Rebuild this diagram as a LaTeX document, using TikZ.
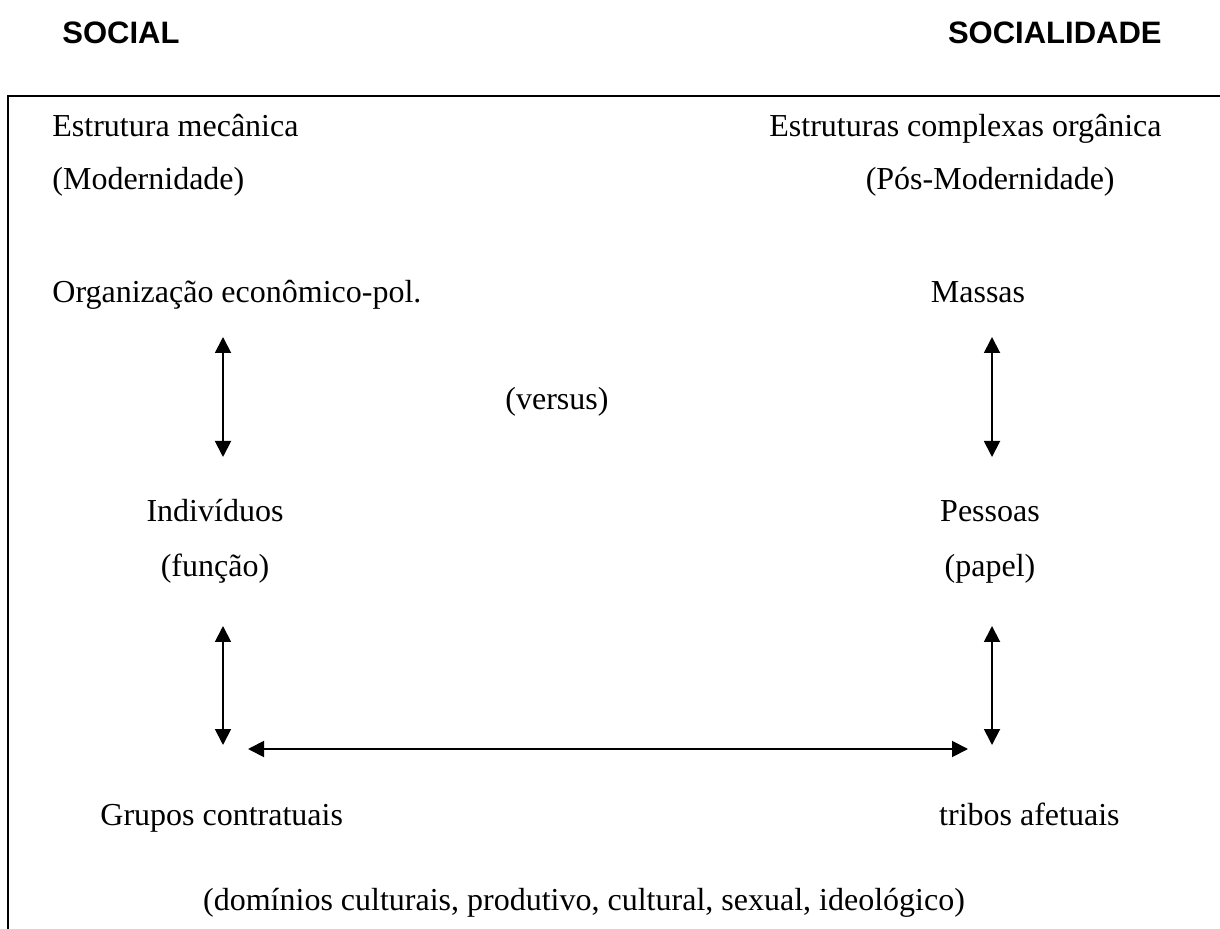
\documentclass[tikz,border=0pt]{standalone}
\usepackage{fontspec}
\setmainfont{Liberation Serif}
\newfontfamily\hdrfont{Liberation Sans}
\usetikzlibrary{arrows.meta}
\begin{document}
\begin{tikzpicture}[x=0.5pt,y=-0.5pt,
  txt/.style={inner sep=0pt,font=\fontsize{16}{19}\selectfont},
  hdr/.style={inner sep=0pt,font=\hdrfont\bfseries\fontsize{15.5}{18}\selectfont},
  frame/.style={line width=1pt},
  dbl/.style={line width=0.95pt,{Triangle[length=8pt,width=8pt]}-{Triangle[length=8pt,width=8pt]}}]
\useasboundingbox (0,0) rectangle (1220,929);
% headers
\node[hdr,anchor=base west] (hsoc) at (62,44) {SOCIAL};
\node[hdr,anchor=base east] (hsocl) at (1162,44) {SOCIALIDADE};
% frame
\draw[frame] (8,935) -- (8,96) -- (1225,96);
% left column
\node[txt,anchor=base west] (est) at (52,137) {Estrutura mecânica};
\node[txt,anchor=base west] (mod) at (52,190) {(Modernidade)};
\node[txt,anchor=base west] (org) at (52,303) {Organização econômico-pol.};
\node[txt,anchor=base] (ind) at (215,522) {Indivíduos};
\node[txt,anchor=base] (fun) at (215,577) {(função)};
\node[txt,anchor=base west] (gru) at (100,825) {Grupos contratuais};
% right column
\node[txt,anchor=base east] (ests) at (1162,137) {Estruturas complexas orgânica};
\node[txt,anchor=base east] (pmod) at (1115,190) {(Pós-Modernidade)};
\node[txt,anchor=base] (mas) at (978,303) {Massas};
\node[txt,anchor=base] (pes) at (990,522) {Pessoas};
\node[txt,anchor=base] (pap) at (990,577) {(papel)};
\node[txt,anchor=base east] (tri) at (1120,825) {tribos afetuais};
% middle
\node[txt,anchor=base] (ver) at (557,410) {(versus)};
\node[txt,anchor=base] (dom) at (584,910) {(domínios culturais, produtivo, cultural, sexual, ideológico)};
% arrows
\coordinate (l1a) at (223,337); \coordinate (l1b) at (223,457);
\coordinate (r1a) at (992,337); \coordinate (r1b) at (992,457);
\coordinate (l2a) at (223,626); \coordinate (l2b) at (223,745);
\coordinate (r2a) at (992,626); \coordinate (r2b) at (992,745);
\coordinate (ha) at (248,749); \coordinate (hb) at (968,749);
\draw[dbl] (l1a) -- (l1b);
\draw[dbl] (r1a) -- (r1b);
\draw[dbl] (l2a) -- (l2b);
\draw[dbl] (r2a) -- (r2b);
\draw[dbl] (ha) -- (hb);
\end{tikzpicture}
\end{document}
